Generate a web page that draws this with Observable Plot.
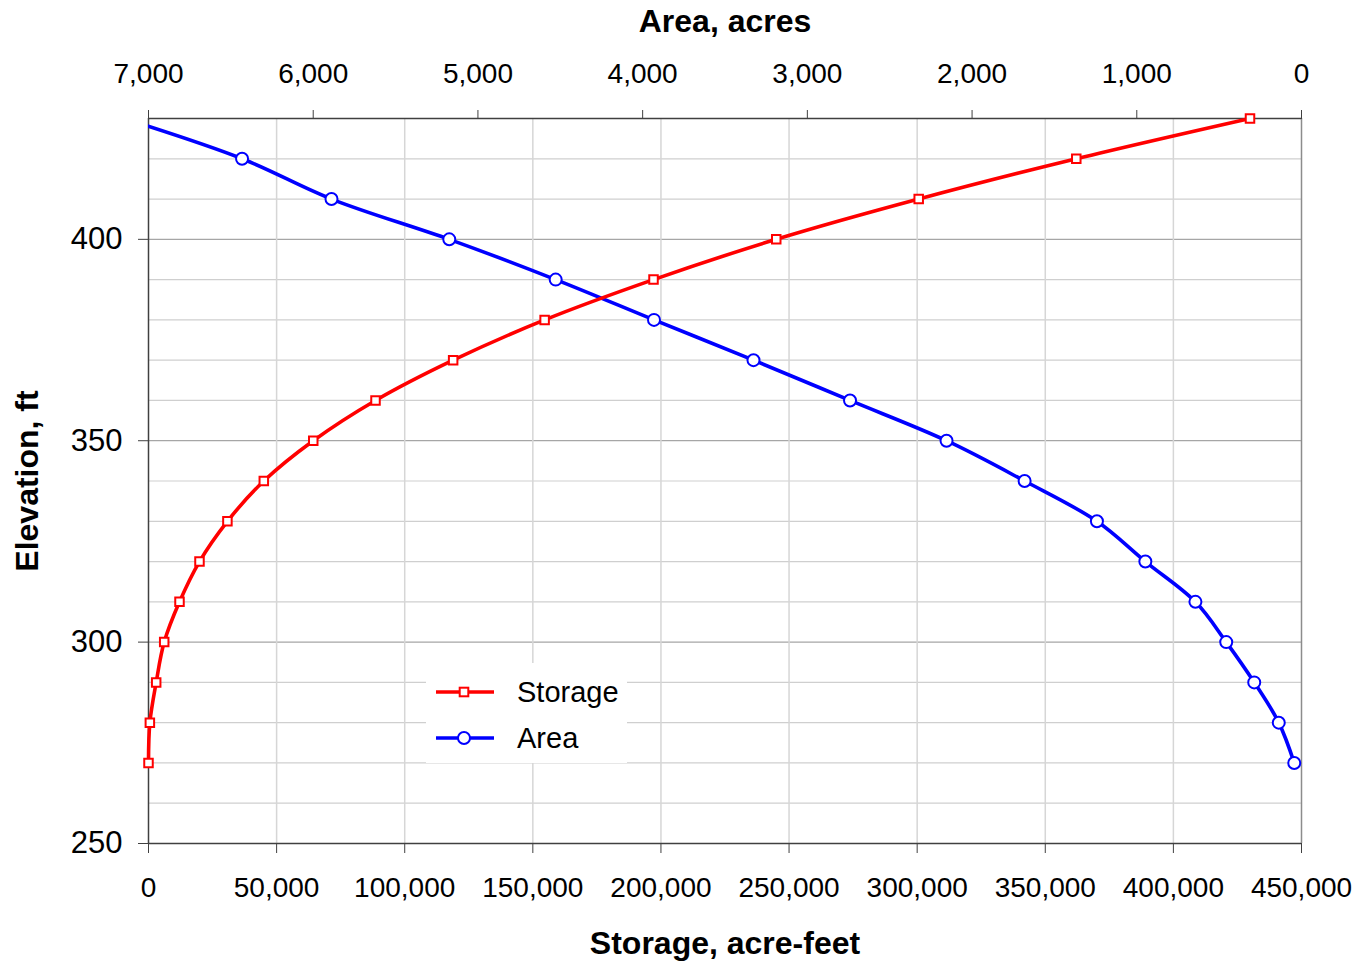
<!DOCTYPE html>
<html><head><meta charset="utf-8">
<script src="https://cdn.jsdelivr.net/npm/d3@7"></script>
<script src="https://cdn.jsdelivr.net/npm/@observablehq/plot@0.6"></script>
<style>
body{margin:0;background:#fff;}
#wrap{position:relative;width:1363px;height:963px;font-family:"Liberation Sans",Arial,sans-serif;color:#000;}
#legend{position:absolute;left:426px;top:663px;width:201px;height:100px;background:#fff;}
</style></head><body><div id="wrap"></div>
<script>
// Data
const elevations = [270, 280, 290, 300, 310, 320, 330, 340, 350, 360, 370, 380, 390, 400, 410, 420, 430];
const storage    = [0, 530, 3000, 6130, 12100, 19900, 30800, 45000, 64300, 88600, 118900, 154600, 197100, 245000, 300600, 362100, 429900];
const area       = [44, 138, 287, 457, 644, 948, 1242, 1681, 2155, 2741, 3327, 3931, 4528, 5174, 5889, 6432, 7150];

const storageTicks = [0, 50000, 100000, 150000, 200000, 250000, 300000, 350000, 400000, 450000];
const areaTicks = [7000, 6000, 5000, 4000, 3000, 2000, 1000, 0];
const elevTicks = [250, 300, 350, 400];
const elevMinor = [260, 270, 280, 290, 310, 320, 330, 340, 360, 370, 380, 390, 410, 420];

const X_MAX = 450000, AREA_MAX = 7000;
const areaToX = a => (AREA_MAX - a) * X_MAX / AREA_MAX;
const xToArea = x => AREA_MAX - x * AREA_MAX / X_MAX;

const rows = elevations.map((e, i) => ({elev: e, storage: storage[i], area: area[i], areaX: areaToX(area[i])}));
const fmt = d3.format(",");
const dark = "#404040";

const chart = Plot.plot({
  width: 1363, height: 963,
  marginLeft: 148, marginRight: 62, marginTop: 118, marginBottom: 120,
  style: {fontFamily: '"Liberation Sans", Arial, sans-serif', fontSize: "28px", color: "#000", background: "#fff"},
  x: {domain: [0, X_MAX]},
  y: {domain: [250, 430]},
  marks: [
    Plot.gridY(elevMinor, {stroke: "#cfcfcf", strokeOpacity: 1, strokeWidth: 1.2}),
    Plot.gridY([300, 350, 400], {stroke: "#a6a6a6", strokeOpacity: 1, strokeWidth: 1.2}),
    Plot.gridX(storageTicks.slice(1, -1), {stroke: "#d6d6d6", strokeOpacity: 1, strokeWidth: 1.5}),
    Plot.ruleX([X_MAX], {stroke: "#8c8c8c", strokeWidth: 1.5}),
    Plot.ruleX([0], {stroke: dark, strokeWidth: 1.5}),
    Plot.ruleY([250], {stroke: dark, strokeWidth: 1.5}),
    Plot.ruleY([430], {stroke: dark, strokeWidth: 1.5}),
    Plot.axisX({anchor: "bottom", ticks: storageTicks, tickSize: 10, tickPadding: 24, tickFormat: fmt, label: null, stroke: dark, fontSize: 28}),
    Plot.axisX({anchor: "top", ticks: areaTicks.map(areaToX), tickSize: 9, tickPadding: 27, tickFormat: x => fmt(Math.round(xToArea(x))), label: null, stroke: dark, fontSize: 28}),
    Plot.axisY({anchor: "left", ticks: elevTicks, tickSize: 10, tickPadding: 16, label: null, stroke: dark, fontSize: 31}),
    Plot.text(["Area, acres"], {text: d => d, frameAnchor: "top", dy: -97, lineAnchor: "middle", textAnchor: "middle", fontSize: 32, fontWeight: "bold"}),
    Plot.text(["Storage, acre-feet"], {text: d => d, frameAnchor: "bottom", dy: 100, lineAnchor: "middle", textAnchor: "middle", fontSize: 32, fontWeight: "bold"}),
    Plot.text(["Elevation, ft"], {text: d => d, frameAnchor: "left", dx: -121, rotate: -90, lineAnchor: "middle", textAnchor: "middle", fontSize: 32, fontWeight: "bold"}),
    Plot.line(rows, {x: "areaX", y: "elev", stroke: "#0000ff", strokeWidth: 3.6, curve: "catmull-rom", clip: true}),
    Plot.dot(rows.filter(d => d.area <= AREA_MAX), {x: "areaX", y: "elev", r: 6, fill: "#fff", stroke: "#0000ff", strokeWidth: 2}),
    Plot.line(rows, {x: "storage", y: "elev", stroke: "#ff0000", strokeWidth: 3.6, curve: "catmull-rom"}),
    Plot.dot(rows, {x: "storage", y: "elev", symbol: "square", r: 4.8, fill: "#fff", stroke: "#ff0000", strokeWidth: 2})
  ]
});
const wrap = document.getElementById("wrap");
wrap.appendChild(chart);

// Legend (inside plot area)
const series = [
  {name: "Storage", color: "#ff0000", symbol: "square"},
  {name: "Area", color: "#0000ff", symbol: "circle"}
];
const leg = d3.select(wrap).append("div").attr("id", "legend")
  .append("svg").attr("width", 201).attr("height", 100)
  .style("font-family", '"Liberation Sans", Arial, sans-serif');
series.forEach((s, i) => {
  const g = leg.append("g").attr("transform", `translate(0,${29 + i * 46})`);
  g.append("line").attr("x1", 10).attr("x2", 68).attr("y1", 0).attr("y2", 0)
    .attr("stroke", s.color).attr("stroke-width", 3.6);
  if (s.symbol === "square") {
    g.append("rect").attr("x", 38 - 4.3).attr("y", -4.3).attr("width", 8.6).attr("height", 8.6)
      .attr("fill", "#fff").attr("stroke", s.color).attr("stroke-width", 2);
  } else {
    g.append("circle").attr("cx", 38).attr("cy", 0).attr("r", 6)
      .attr("fill", "#fff").attr("stroke", s.color).attr("stroke-width", 2);
  }
  g.append("text").attr("x", 91).attr("y", 0).attr("dy", "0.35em")
    .attr("font-size", 29).attr("fill", "#000").text(s.name);
});
</script>
</body></html>
